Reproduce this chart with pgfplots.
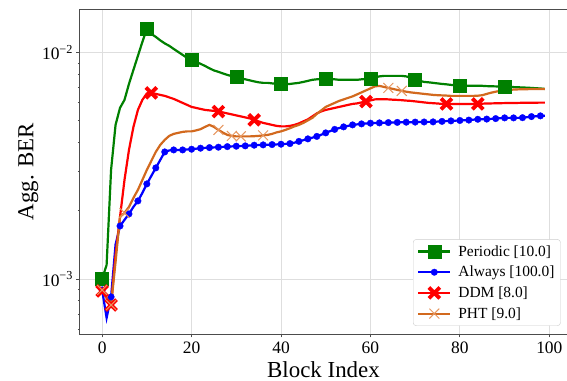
\documentclass[border=0pt]{standalone}
\usepackage{fontspec}
\setmainfont{Liberation Serif}
\usepackage{pgfplots}
\usepackage{pgfplotstable}
\pgfplotsset{compat=1.18}
\definecolor{mgreen}{RGB}{0,128,0}
\definecolor{mblue}{RGB}{0,0,255}
\definecolor{mred}{RGB}{255,0,0}
\definecolor{morange}{RGB}{210,105,30}
\definecolor{morangel}{RGB}{230,150,95}

\pgfdeclareplotmark{Xf}{%
 \pgfpathmoveto{\pgfqpoint{0pt}{0.4\pgfplotmarksize}}%
 \pgfpathlineto{\pgfqpoint{0.6\pgfplotmarksize}{\pgfplotmarksize}}%
 \pgfpathlineto{\pgfqpoint{\pgfplotmarksize}{0.6\pgfplotmarksize}}%
 \pgfpathlineto{\pgfqpoint{0.4\pgfplotmarksize}{0pt}}%
 \pgfpathlineto{\pgfqpoint{\pgfplotmarksize}{-0.6\pgfplotmarksize}}%
 \pgfpathlineto{\pgfqpoint{0.6\pgfplotmarksize}{-\pgfplotmarksize}}%
 \pgfpathlineto{\pgfqpoint{0pt}{-0.4\pgfplotmarksize}}%
 \pgfpathlineto{\pgfqpoint{-0.6\pgfplotmarksize}{-\pgfplotmarksize}}%
 \pgfpathlineto{\pgfqpoint{-\pgfplotmarksize}{-0.6\pgfplotmarksize}}%
 \pgfpathlineto{\pgfqpoint{-0.4\pgfplotmarksize}{0pt}}%
 \pgfpathlineto{\pgfqpoint{-\pgfplotmarksize}{0.6\pgfplotmarksize}}%
 \pgfpathlineto{\pgfqpoint{-0.6\pgfplotmarksize}{\pgfplotmarksize}}%
 \pgfpathclose
 \pgfusepathqfill
}

\pgfplotstableread{
x g b r o
0 0.001000 0.000894 0.000885 0.000894
1 0.001153 0.000673 0.000824 0.000824
2 0.003032 0.000833 0.000767 0.000767
3 0.00479 0.001419 0.001276 0.001188
4 0.00570 0.001714 0.001879 0.001879
5 0.00618 0.001823 0.002738 0.001957
6 0.00727 0.001937 0.003715 0.002081
7 0.00839 0.002081 0.004694 0.002280
8 0.00967 0.002211 0.005581 0.002474
9 0.01115 0.002399 0.006180 0.002738
10 0.01273 0.002629 0.006603 0.003032
11 0.01209 0.002852 0.006636 0.003323
12 0.01173 0.003094 0.006569 0.003640
13 0.01132 0.003356 0.006503 0.003910
14 0.01098 0.003640 0.006437 0.004114
15 0.01071 0.003696 0.006339 0.004285
16 0.01038 0.003715 0.006243 0.004373
17 0.01007 0.003715 0.006118 0.004418
18 0.00977 0.003715 0.005994 0.004463
19 0.00948 0.003734 0.005874 0.004486
20 0.00928 0.003742 0.005754 0.004486
21 0.00910 0.003761 0.005696 0.004531
22 0.00892 0.003781 0.005638 0.004587
23 0.00873 0.003793 0.005581 0.004696
24 0.00852 0.003804 0.005553 0.004792
25 0.00834 0.003812 0.005525 0.004696
26 0.00822 0.003820 0.005486 0.004554
27 0.00809 0.003832 0.005441 0.004431
28 0.00797 0.003843 0.005386 0.004328
29 0.00787 0.003851 0.005332 0.004285
30 0.00779 0.003859 0.005278 0.004263
31 0.00769 0.003863 0.005225 0.004263
32 0.00762 0.003871 0.005172 0.004263
33 0.00754 0.003887 0.005119 0.004263
34 0.00746 0.003899 0.005042 0.004272
35 0.00739 0.003903 0.004966 0.004285
36 0.00735 0.003910 0.004891 0.004307
37 0.00735 0.003918 0.004841 0.004328
38 0.00731 0.003923 0.004792 0.004373
39 0.00727 0.003930 0.004744 0.004440
40 0.00727 0.003938 0.004720 0.004486
41 0.00727 0.003951 0.004720 0.004554
42 0.00727 0.003963 0.004744 0.004633
43 0.00731 0.003999 0.004792 0.004720
44 0.00735 0.004052 0.004866 0.004792
45 0.00742 0.004102 0.004966 0.004891
46 0.00750 0.004157 0.005068 0.005017
47 0.00758 0.004207 0.005225 0.005146
48 0.00762 0.004263 0.005386 0.005359
49 0.00765 0.004337 0.005497 0.005553
50 0.00769 0.004418 0.005581 0.005754
51 0.00765 0.004499 0.005638 0.005874
52 0.00762 0.004578 0.005696 0.005994
53 0.00758 0.004639 0.005754 0.006118
54 0.00758 0.004696 0.005814 0.006212
55 0.00758 0.004744 0.005874 0.006308
56 0.00758 0.004792 0.005933 0.006404
57 0.00758 0.004817 0.005963 0.006536
58 0.00762 0.004841 0.006024 0.006670
59 0.00765 0.004861 0.006074 0.006808
60 0.00765 0.004876 0.006149 0.006948
61 0.00777 0.004886 0.006212 0.007090
62 0.00785 0.004891 0.006225 0.007127
63 0.00789 0.004896 0.006225 0.007053
64 0.00789 0.004906 0.006212 0.006982
65 0.00789 0.004911 0.006193 0.006911
66 0.00789 0.004916 0.006180 0.006842
67 0.00789 0.004921 0.006161 0.006773
68 0.00785 0.004926 0.006136 0.006717
69 0.00773 0.004926 0.006118 0.006670
70 0.00762 0.004931 0.006087 0.006636
71 0.00750 0.004931 0.006056 0.006602
72 0.00742 0.004936 0.006024 0.006569
73 0.00739 0.004941 0.005994 0.006536
74 0.00735 0.004941 0.005976 0.006503
75 0.00731 0.004956 0.005958 0.006483
76 0.00727 0.004966 0.005933 0.006470
77 0.00724 0.004981 0.005933 0.006457
78 0.00720 0.004991 0.005933 0.006437
79 0.00716 0.005002 0.005933 0.006437
80 0.00715 0.005012 0.005933 0.006437
81 0.00713 0.005022 0.005933 0.006437
82 0.00713 0.005032 0.005933 0.006437
83 0.00713 0.005053 0.005933 0.006437
84 0.00713 0.005074 0.005933 0.006450
85 0.00713 0.005079 0.005946 0.006483
86 0.00711 0.005084 0.005958 0.006569
87 0.00710 0.005094 0.005963 0.006650
88 0.00709 0.005110 0.005970 0.006717
89 0.00708 0.005131 0.005976 0.006773
90 0.00708 0.005146 0.005982 0.006822
91 0.00705 0.005146 0.005988 0.006842
92 0.00704 0.005146 0.005994 0.006864
93 0.00703 0.005146 0.005994 0.006878
94 0.00701 0.005157 0.006000 0.006885
95 0.00700 0.005183 0.006000 0.006892
96 0.00698 0.005215 0.006006 0.006899
97 0.00696 0.005231 0.006006 0.006906
98 0.00694 0.005253 0.006012 0.006911
99 0.00691 0.005264 0.006012 0.006911
}\data

\pgfplotstableread{
x r
0 0.000885
2 0.000767
11 0.006636
26 0.005486
34 0.005042
59 0.006074
77 0.005933
84 0.005933
}\ddmmarks

\pgfplotstableread{
x o
0 0.000894
2 0.000767
5 0.001957
26 0.004554
29 0.004285
31 0.004263
36 0.004307
64 0.006982
67 0.006773
}\phtmarks

\begin{document}
\begin{tikzpicture}
\begin{axis}[
  name=ax,
  scale only axis, width=487bp, height=324.5bp,
  xmin=-4.95, xmax=103.95,
  ymode=log, ymin=5.71e-4, ymax=1.55e-2,
  xtick={0,20,40,60,80,100}, xticklabels={0,20,40,60,80,100},
  ytick={1e-3,1e-2}, yticklabels={10\textsuperscript{−3},10\textsuperscript{−2}},
  minor ytick={6e-4,7e-4,8e-4,9e-4,2e-3,3e-3,4e-3,5e-3,6e-3,7e-3,8e-3,9e-3},
  tick align=outside, xtick pos=left, ytick pos=left,
  major tick length=3.5bp, minor tick length=2bp,
  xmajorgrids, ymajorgrids,
  major grid style={draw=black!13, line width=0.8bp},
  axis line style={black!70, line width=1bp},
  every tick/.style={black!70, line width=0.8bp},
  tick label style={font=\fontsize{17.5}{20}\selectfont},
  xticklabel style={yshift=-1bp},
  label style={font=\fontsize{23}{26}\selectfont},
  xlabel={Block Index}, ylabel={Agg. BER},
  xlabel style={at={(axis description cs:0.5,-0.11)}, anchor=center},
  ylabel style={at={(axis description cs:-0.106,0.5)}, anchor=center},
  legend style={at={(axis description cs:0.987,0.025)}, anchor=south east,
    draw=black!20, rounded corners=3bp, fill=white,
    font=\fontsize{15.5}{18}\selectfont, inner xsep=4bp, inner ysep=4bp,
    row sep=4.5bp, column sep=5bp},
  legend cell align=left,
  legend image code/.code={\draw[mark repeat=2,mark phase=2] plot coordinates {(0bp,0bp) (16bp,0bp) (32bp,0bp)};},
]
\addplot[mgreen, line width=2.2bp, mark=square*, mark size=6.5bp, mark repeat=10, mark phase=1,
  mark options={solid, fill=mgreen, line width=0.5bp}] table[x=x,y=g]{\data};
\addplot[mblue, line width=2.2bp, mark=*, mark size=3.3bp, mark repeat=2, mark phase=1,
  mark options={solid, fill=mblue, line width=0.3bp}] table[x=x,y=b]{\data};
\addplot[mred, line width=2.2bp, mark=Xf, mark size=6.8bp, mark repeat=500, mark phase=500,
  mark options={solid, fill=mred}] table[x=x,y=r]{\data};
\addplot[only marks, mark=Xf, mark size=6.8bp, color=mred, fill=mred, forget plot] table[x=x,y=r]{\ddmmarks};
\addplot[morange, line width=2.2bp, mark=x, mark size=7bp, mark repeat=500, mark phase=500,
  mark options={solid, draw=morangel, line width=1bp}] table[x=x,y=o]{\data};
\addplot[only marks, mark=x, mark size=7bp, draw=morangel, mark options={line width=1bp}, forget plot] table[x=x,y=o]{\phtmarks};
\legend{Periodic [10.0], Always [100.0], DDM [8.0], PHT [9.0]}
\end{axis}
\pgfresetboundingbox
\useasboundingbox ([xshift=-80bp,yshift=-47bp]ax.south west) rectangle ([yshift=9.5bp]ax.north east);
\end{tikzpicture}
\end{document}
